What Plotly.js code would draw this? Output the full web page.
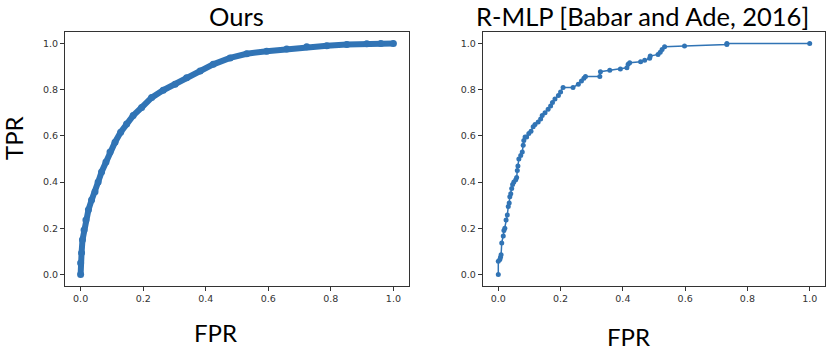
<!DOCTYPE html>
<html>
<head>
<meta charset="utf-8">
<script src="https://cdn.plot.ly/plotly-3.0.1.min.js"></script>
<style>
  html, body { margin: 0; padding: 0; background: #fff; }
  #chart { width: 831px; height: 352px; }
</style>
</head>
<body>
<div id="chart"></div>
<script>
// ROC curve of our model
const oursFpr = [0, 0, 0.003, 0.006, 0.011, 0.017, 0.025, 0.035, 0.046, 0.056, 0.067, 0.081, 0.094,
  0.11, 0.128, 0.147, 0.168, 0.195, 0.227, 0.264, 0.302, 0.339, 0.382, 0.424, 0.478, 0.531,
  0.595, 0.659, 0.723, 0.787, 0.851, 0.915, 0.96, 1.0];
const oursTpr = [0, 0.05, 0.093, 0.15, 0.193, 0.236, 0.28, 0.322, 0.358, 0.4, 0.444, 0.487, 0.53,
  0.573, 0.616, 0.652, 0.688, 0.723, 0.766, 0.798, 0.824, 0.852, 0.881, 0.91, 0.938, 0.956,
  0.967, 0.977, 0.986, 0.991, 0.996, 0.999, 1.0, 1.0];

// R-MLP [Babar and Ade, 2016]
const rmlpFpr = [0, 0, 0.005, 0.007, 0.009, 0.011, 0.016, 0.018, 0.021, 0.025, 0.029, 0.032, 0.035,
  0.037, 0.04, 0.043, 0.046, 0.05, 0.056, 0.059, 0.061, 0.063, 0.066, 0.072, 0.077, 0.08, 0.082,
  0.086, 0.091, 0.098, 0.105, 0.112, 0.118, 0.128, 0.136, 0.141, 0.15, 0.16, 0.168, 0.174, 0.182,
  0.193, 0.2, 0.208, 0.24, 0.257, 0.267, 0.275, 0.28, 0.326, 0.328, 0.358, 0.392, 0.413, 0.417,
  0.422, 0.457, 0.47, 0.486, 0.488, 0.513, 0.52, 0.526, 0.534, 0.598, 0.734, 0.734, 1.0];
const rmlpTpr = [0, 0.057, 0.065, 0.075, 0.085, 0.136, 0.167, 0.19, 0.2, 0.236, 0.258, 0.294, 0.31,
  0.337, 0.35, 0.372, 0.39, 0.4, 0.41, 0.42, 0.45, 0.47, 0.5, 0.515, 0.53, 0.56, 0.58,
  0.595, 0.595, 0.61, 0.62, 0.64, 0.65, 0.66, 0.673, 0.688, 0.7, 0.715, 0.73, 0.745, 0.76,
  0.775, 0.79, 0.81, 0.81, 0.824, 0.838, 0.85, 0.857, 0.857, 0.878, 0.884, 0.89, 0.895, 0.91,
  0.917, 0.921, 0.928, 0.936, 0.946, 0.953, 0.962, 0.974, 0.986, 0.989, 0.996, 1.0, 1.0];

const tickVals = [0, 0.2, 0.4, 0.6, 0.8, 1.0];
const blue = '#3174b5';
const labelFont = { family: 'Lato, "Noto Sans", sans-serif', size: 24, color: '#000' };
const titleFont = { family: 'Lato, "Noto Sans", sans-serif', size: 25.5, color: '#000' };

const traces = [
  {
    x: oursFpr, y: oursTpr, type: 'scatter', mode: 'lines+markers',
    line: { color: blue, width: 6 },
    marker: { color: blue, size: 7 },
    xaxis: 'x', yaxis: 'y'
  },
  {
    x: rmlpFpr, y: rmlpTpr, type: 'scatter', mode: 'lines+markers',
    line: { color: blue, width: 1.5 },
    marker: { color: blue, size: 5 },
    xaxis: 'x2', yaxis: 'y2'
  }
];

function axis(domain, anchor) {
  return {
    domain: domain, anchor: anchor, range: [-0.05, 1.05],
    tickvals: tickVals, tickformat: '.1f',
    ticks: 'outside', ticklen: 4, tickcolor: '#333', tickwidth: 1,
    tickfont: { family: '"DejaVu Sans", sans-serif', size: 9.5, color: '#333' },
    showgrid: false, zeroline: false,
    showline: true, mirror: true, linecolor: '#333', linewidth: 1
  };
}

const layout = {
  width: 831, height: 352,
  margin: { l: 0, r: 0, t: 0, b: 0 },
  paper_bgcolor: '#fff', plot_bgcolor: '#fff',
  showlegend: false,
  xaxis: axis([0.0782, 0.4922], 'y'),
  yaxis: axis([0.1875, 0.909], 'x'),
  xaxis2: axis([0.5809, 0.9931], 'y2'),
  yaxis2: axis([0.1875, 0.909], 'x2'),
  annotations: [
    { text: 'Ours', x: 236 / 831, y: 1, yanchor: 'top', borderpad: 0, font: titleFont },
    { text: 'R-MLP [Babar and Ade, 2016]', x: 642 / 831, y: 1, yanchor: 'top', borderpad: 0, font: titleFont },
    { text: 'TPR', x: 13 / 831, y: 1 - 138 / 352, textangle: -90 },
    { text: 'FPR', x: 216 / 831, y: 1 - 332 / 352 },
    { text: 'FPR', x: 628 / 831, y: 1 - 336 / 352 }
  ].map(a => Object.assign({
    xref: 'paper', yref: 'paper', showarrow: false,
    xanchor: 'center', yanchor: 'middle', font: labelFont
  }, a))
};

Plotly.newPlot('chart', traces, layout, { displayModeBar: false, staticPlot: true });
</script>
</body>
</html>
